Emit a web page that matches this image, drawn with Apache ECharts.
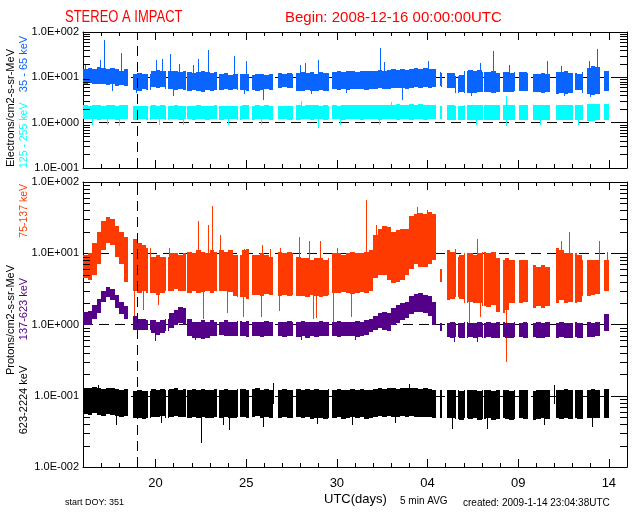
<!DOCTYPE html>
<html><head><meta charset="utf-8">
<script src="https://cdn.jsdelivr.net/npm/echarts@6/dist/echarts.min.js"></script>
<style>html,body{margin:0;padding:0;background:#fff}#c{width:640px;height:512px}</style>
</head><body><div id="c"></div>
<script>
// ---------- data (days since 2008-12-16 00:00 UTC) ----------
const spanDays = 30;
const binDays = 0.25;               // each hi/lo value covers a quarter day
const tickDays = [4, 9, 14, 19, 24, 29];
const tickLabels = ['20', '25', '30', '04', '09', '14'];
const eventDay = 3;
// data gaps [start, end] in days
const gaps = [[2.50,2.74],[3.57,3.71],[4.58,4.68],[5.66,5.74],[7.37,7.48],[8.56,8.66],[9.16,9.31],[10.50,10.73],[11.56,11.75],[13.57,13.71],[19.47,19.67],[19.80,20.07],[20.58,20.69],[21.06,21.19],[22.08,22.13],[23.00,23.14],[23.83,24.06],[24.55,24.80],[25.76,26.10],[27.00,27.12],[27.56,27.78],[28.52,28.73],[29.03,30.00]];

// Electrons 35-65 keV
const e35Hi = [15,16,15,17,16,15,16,15,14,15, 14, 12,12.5,12,12, 14,14.5,14,13.5, 13.5,14,13,13.5, 13,12.5,13,14,13,12.5,13, 12,12.5,11.5,12,12, 12,12,11.5,12,11.8,11.5,12, 12,12.5,12,12.3,12, 12.5,13,12.5,13,12,13,12.5,12.5, 13,13.5,13,13.5,14,13,13.5,14,13.5,14,14.5,14,14.5,15,14.5,15,14.5, 15.5,16,15,16,15.5,15,13,12.5, 12.5,12.5,10.5,11,14,14.5,14,14.5, 13,13,13.5,12.5,13,13,12.5,13, 13,13,12.5,12,12,12.5,12,12, 13,13,13.5,12.5,12.5,12,13,16, 18,17,15,14,13, null,null,null];
const e35Lo = [7,7.5,7,7.2,7,6.8,7,6.5,6.8,6.5, 6.5, 5.2,5,5.5,5.2, 6,5.8,6,5.5, 5.5,5.2,5.5,5.3, 5,5.2,5,4.8,5.2,5,5.3, 5.3,5.5,5.2,5.5,5.2, 5.2,5,5.3,5,5.2,5.4,5.2, 5.8,5.8,6,5.7,5.8, 5,5,5.2,4.9,5,5.3,5,5.1, 5.5,5.3,5.5,5.2,5.5,5.4,5.6,5.3,5.5,5.6,5.8,5.5,5.6,5.8,5.7,5.8,5.6, 5.8,6,5.8,6,5.8,6,6.5,6, 5.8,5.8,4.6,4.8,4.5,4.6,4.5,4.7, 4.7,4.8,4.6,4.8,4.7,4.8,4.7,4.9, 5,5,5,4.7,4.8,4.6,4.8,4.7, 4.3,4.4,4.3,4.5,5.2,5.2,4.5,4.2, 4,4.2,4.5,5,5, null,null,null];
const e35Spikes = [[0.1,19],[0.94,24],[1.16,67],[2.1,34],[4.0,24],[4.35,25],[4.8,33],[5.3,20],[6.05,19],[6.35,25],[6.9,40],[8.33,30],[9.0,23],[11.97,19],[12.25,21],[12.96,24],[16.38,44],[16.6,22],[19.03,23],[21.9,21],[22.6,38],[23.5,19],[25.6,23],[26.37,18],[27.9,23],[28.35,42],[1.6,5.0],[4.95,3.9],[9.93,3.1],[17.6,3.1],[2.9,4.5],[8.9,4.2],[12.6,4.3],[14.5,4.4],[21.4,3.9],[26.5,3.8],[27.95,3.6]];

// Electrons 125-255 keV
const e125Hi = [2.4,2.35,2.45,2.4,2.35,2.4,2.45,2.35,2.4,2.4, 2.3, 2.3,2.35,2.3,2.3, 2.4,2.35,2.4,2.35, 2.35,2.4,2.3,2.35, 2.35,2.3,2.4,2.35,2.3,2.35,2.4, 2.35,2.3,2.35,2.3,2.35, 2.4,2.45,2.35,2.4,2.35,2.4,2.35, 2.3,2.35,2.3,2.3,2.35, 2.4,2.35,2.4,2.45,2.4,2.35,2.4,2.35, 2.4,2.35,2.4,2.45,2.4,2.45,2.5,2.4,2.45,2.5,2.45,2.5,2.45,2.5,2.55,2.5,2.5, 2.55,2.5,2.55,2.5,2.5,2.45,2.3,2.3, 2.4,2.4,2.3,2.35,2.5,2.45,2.5,2.45, 2.5,2.45,2.5,2.45,2.5,2.45,2.5,2.45, 2.45,2.5,2.45,2.4,2.45,2.5,2.4,2.4, 2.5,2.45,2.5,2.45,2.5,2.4,2.5,2.6, 2.6,2.55,2.6,2.6,2.5, null,null,null];
const e125Lo = [1.2,1.18,1.2,1.15,1.2,1.18,1.2,1.15,1.2,1.18, 1.2, 1.15,1.18,1.2,1.15, 1.2,1.18,1.2,1.15, 1.18,1.2,1.15,1.2, 1.18,1.15,1.2,1.18,1.15,1.2,1.18, 1.15,1.2,1.18,1.2,1.15, 1.18,1.2,1.15,1.18,1.2,1.18,1.15, 1.2,1.18,1.2,1.15,1.2, 1.15,1.2,1.18,1.15,1.2,1.18,1.15,1.2, 1.18,1.2,1.15,1.18,1.2,1.18,1.15,1.2,1.18,1.2,1.15,1.18,1.2,1.18,1.15,1.2,1.18, 1.15,1.18,1.2,1.15,1.18,1.2,1.2,1.2, 1.15,1.15,1.15,1.12,1.12,1.15,1.12,1.15, 1.12,1.15,1.12,1.15,1.12,1.15,1.12,1.15, 1.15,1.12,1.15,1.12,1.15,1.12,1.15,1.12, 1.12,1.15,1.12,1.15,1.12,1.15,1.12,1.1, 1.1,1.12,1.15,1.12,1.15, null,null,null];
const e125Spikes = [[0.5,0.88],[1.3,0.9],[2.0,0.86],[4.2,0.9],[5.5,0.87],[8.0,0.88],[9.8,0.9],[12.95,0.76],[14.2,0.87],[16.3,0.9],[21.7,0.89],[23.3,3.9],[23.35,0.85],[25.2,0.88],[27.3,0.9],[12.0,3.0],[17.0,2.9]];

// Protons 75-137 keV
const p75Hi = [9.5,10,14,20,28,32,30,24,20,17, 16, 16,14,13,12, 9,9.5,9,9, 10,10,9.5,10, 10.5,10,11,10.5,10,11,10.5, 11,10.5,11,9.5,9.5, 11,11.5,9.5,9.5,10,9.5,9, 10,10.5,10,10.5,10, 9,8.5,8.5,8,8.5,8.5,8,8.5, 10,10,9.5,10,10.5,10,10,10.5,11,18,22,24,23,20,21,22,22, 33,36,37,35,38,36,6,6, 11,10.5,9,9.5,10,10,9.5,10, 10.5,10,10.5,8.5,8,8.5,8,8, 8,8,8,6.8,6.5,6.8,6.5,6.5, 12,11,10,10,10,9.5,8,8, 8,8,8.5,8,8, null,null,null];
const p75Lo = [4.5,4.2,5,7,11,14,13,9,7,4, 3.5, 3,2.8,3,2.8, 2.8,2.6,2.8,3, 3,3.2,3,3, 2.8,3,2.8,2.9,3,2.8,3, 3,3,2.9,2.5,2.4, 2.4,2.3,2.6,2.6,2.5,2.7,2.6, 2.5,2.5,2.6,2.5,2.6, 2.5,2.5,2.4,2.6,2.5,2.4,2.5,2.6, 2.8,2.8,2.9,2.8,2.7,2.8,2.9,2.8,3,4.5,5,5,4.2,3.8,4,4.2,5, 6,7,6.5,6.4,7,8,4,4, 2.2,2.3,2.4,2.3,2,2.1,2,2, 1.8,1.75,1.9,1.5,1.45,1.6,2,2, 2,2.1,2.1,1.7,1.8,1.7,1.8,1.8, 2,2.2,2,2.1,2,2.1,2.5,2.5, 2.6,2.7,2.7,3,3, null,null,null];
const p75Spikes = [[2.81,1.1],[2.8,16],[4.14,1.9],[4.74,12],[6.34,28.5],[7.1,46],[6.9,25],[6.6,1.2],[7.55,18],[7.94,1.45],[8.88,11.5],[8.85,1.27],[9.87,13],[9.82,1.27],[10.3,11.5],[10.87,12],[10.8,1.55],[11.9,17],[12.47,15],[13.07,15],[12.7,1.2],[12.85,1.25],[13.79,1.1],[14.78,1.27],[15.6,56],[14.0,12],[16.16,25],[20.5,11.5],[21.73,16],[21.3,1.05],[21.9,1.27],[23.3,0.3],[26.37,15],[26.8,20],[28.46,15],[28.9,10.5],[18.4,44],[18.97,40],[3.3,1.6]];

// Protons 137-623 keV
const p137Hi = [1.5,1.55,1.9,2.3,3.0,3.4,3.2,2.6,2.1,1.8, 1.5, 1.3,1.2,1.2,1.15, 1.15,1.1,1.15,1.2, 1.45,1.6,1.75,1.7, 1.2,1.1,1.1,1.15,1.1,1.15,1.1, 1.1,1.15,1.1,1.1,1.12, 1.1,1.12,1.1,1.08,1.1,1.12,1.1, 1.1,1.08,1.1,1.12,1.1, 1.1,1.12,1.1,1.08,1.1,1.12,1.1,1.1, 1.1,1.12,1.1,1.08,1.1,1.12,1.1,1.15,1.2,1.3,1.45,1.5,1.45,1.7,1.9,2.0,2.1, 2.5,2.7,2.8,2.6,2.5,2.1,1.05,1.05, 1.05,1.08,1.05,1.05,1.08,1.05,1.05,1.08, 1.06,1.08,1.05,1.07,1.08,1.05,1.06,1.08, 1.05,1.08,1.06,1.05,1.08,1.05,1.07,1.08, 1.06,1.08,1.05,1.05,1.08,1.06,1.05,1.08, 1.05,1.1,1.12,1.4,1.7, null,null,null];
const p137Lo = [1.0,1.0,1.2,1.45,2.1,2.4,2.2,1.7,1.4,1.2, 1.0, 0.85,0.85,0.83,0.85, 0.75,0.72,0.75,0.8, 0.9,1.0,1.05,1.0, 0.7,0.65,0.65,0.62,0.65,0.68,0.7, 0.72,0.7,0.7,0.68,0.7, 0.68,0.66,0.68,0.7,0.66,0.68,0.7, 0.68,0.7,0.66,0.68,0.7, 0.66,0.68,0.65,0.68,0.66,0.68,0.7,0.68, 0.68,0.66,0.68,0.7,0.68,0.66,0.68,0.72,0.78,0.85,0.9,0.85,0.8,1.0,1.05,1.15,1.25, 1.4,1.5,1.5,1.45,1.3,1.0,0.8,0.8, 0.66,0.65,0.67,0.64,0.65,0.66,0.64,0.66, 0.65,0.66,0.64,0.65,0.67,0.65,0.64,0.66, 0.66,0.64,0.65,0.66,0.64,0.65,0.66,0.65, 0.65,0.66,0.64,0.65,0.66,0.64,0.65,0.66, 0.66,0.7,0.72,0.8,0.9, null,null,null];
const p137Spikes = [[3.97,0.58],[6.2,0.6],[20.45,0.57],[21.73,0.57],[12.0,0.6],[15.0,0.6]];

// Protons 623-2224 keV
const p623Hi = [0.13,0.128,0.132,0.13,0.126,0.13,0.128,0.125,0.122,0.125, 0.12, 0.118,0.12,0.115,0.118, 0.125,0.122,0.125,0.12, 0.125,0.128,0.122,0.125, 0.122,0.125,0.12,0.125,0.122,0.12,0.125, 0.122,0.125,0.12,0.122,0.125, 0.125,0.122,0.125,0.128,0.122,0.125,0.12, 0.125,0.122,0.125,0.12,0.122, 0.125,0.122,0.125,0.12,0.125,0.122,0.12,0.125, 0.122,0.125,0.12,0.122,0.125,0.122,0.125,0.12,0.122,0.125,0.128,0.125,0.13,0.128,0.125,0.13,0.128, 0.13,0.128,0.125,0.128,0.125,0.122,0.12,0.12, 0.12,0.122,0.12,0.118,0.122,0.12,0.122,0.118, 0.12,0.122,0.118,0.12,0.122,0.12,0.118,0.12, 0.122,0.12,0.12,0.118,0.12,0.122,0.12,0.12, 0.122,0.12,0.125,0.12,0.122,0.12,0.12,0.122, 0.125,0.122,0.12,0.125,0.128, null,null,null];
const p623Lo = [0.056,0.054,0.057,0.054,0.052,0.056,0.054,0.052,0.051,0.052, 0.05, 0.048,0.049,0.047,0.049, 0.051,0.05,0.052,0.049, 0.051,0.052,0.05,0.051, 0.049,0.051,0.048,0.05,0.049,0.048,0.05, 0.049,0.051,0.048,0.049,0.05, 0.05,0.049,0.051,0.052,0.049,0.05,0.048, 0.05,0.049,0.051,0.048,0.049, 0.05,0.048,0.05,0.047,0.049,0.048,0.047,0.049, 0.048,0.05,0.047,0.049,0.05,0.048,0.05,0.047,0.049,0.05,0.052,0.05,0.052,0.051,0.05,0.052,0.051, 0.052,0.051,0.05,0.051,0.05,0.049,0.048,0.048, 0.048,0.049,0.047,0.046,0.048,0.047,0.048,0.046, 0.047,0.048,0.046,0.047,0.048,0.047,0.046,0.047, 0.048,0.047,0.047,0.046,0.047,0.048,0.047,0.047, 0.048,0.047,0.049,0.047,0.048,0.047,0.047,0.048, 0.049,0.048,0.047,0.049,0.051, null,null,null];
const p623Spikes = [[1.8,0.039],[6.5,0.022],[8.05,0.033],[7.7,0.039],[9.93,0.037],[12.9,0.04],[14.84,0.039],[20.35,0.034],[22.28,0.034],[25.4,0.039],[28.07,0.037],[4.3,0.042],[17.2,0.042],[10.48,0.15],[0.8,0.14],[18.0,0.145],[26.0,0.14]];

// ---------- rendering ----------
const FONT = '"Liberation Sans", Arial, sans-serif';
const C_BLUE = '#0a64ff', C_CYAN = '#00ffff', C_ORANGE = '#ff3a00', C_PURPLE = '#550088', C_BLACK = '#000000';

function cutGaps(s, e) {
  let pieces = [[s, e]];
  for (const [g0, g1] of gaps) {
    const next = [];
    for (const [a, b] of pieces) {
      if (g1 <= a || g0 >= b) { next.push([a, b]); continue; }
      if (g0 > a) next.push([a, g0]);
      if (g1 < b) next.push([g1, b]);
    }
    pieces = next;
  }
  return pieces;
}
function bandData(hi, lo) {
  const out = [];
  hi.forEach((h, i) => { if (h != null && lo[i] != null) out.push([i * binDays, (i + 1) * binDays, lo[i], h]); });
  return out;
}
function bandSeries(hi, lo, color, xi, yi) {
  return {
    type: 'custom', xAxisIndex: xi, yAxisIndex: yi, silent: true, z: 3,
    data: bandData(hi, lo), encode: { x: [0, 1], y: [2, 3] },
    renderItem: (params, api) => {
      const s = api.value(0), e = api.value(1), l = api.value(2), h = api.value(3);
      const children = [];
      for (const [a, b] of cutGaps(s, e)) {
        const p1 = api.coord([a, h]), p2 = api.coord([b, l]);
        const x0 = Math.round(p1[0]), x1 = Math.round(p2[0]);
        if (x1 <= x0) continue;
        const y0 = Math.round(p1[1]), y1 = Math.round(p2[1]);
        children.push({ type: 'rect', shape: { x: x0, y: y0, width: x1 - x0, height: Math.max(1, y1 - y0) }, style: { fill: color } });
      }
      return { type: 'group', children };
    }
  };
}
function spikeSeries(spikes, hi, lo, color, xi, yi) {
  const data = spikes.map(([d, v]) => {
    const i = Math.min(hi.length - 1, Math.floor(d / binDays));
    const base = (hi[i] != null) ? Math.sqrt(hi[i] * lo[i]) : v;
    return [d, v, base];
  });
  return {
    type: 'custom', xAxisIndex: xi, yAxisIndex: yi, silent: true, z: 3,
    data, encode: { x: 0, y: [1, 2] },
    renderItem: (params, api) => {
      const p = api.coord([api.value(0), api.value(1)]);
      const b = api.coord([api.value(0), api.value(2)]);
      const y0 = Math.round(Math.min(p[1], b[1])), y1 = Math.round(Math.max(p[1], b[1]));
      return { type: 'rect', shape: { x: Math.round(p[0]), y: y0, width: 1, height: Math.max(1, y1 - y0) }, style: { fill: color } };
    }
  };
}
// minor log ticks (2..9 of each decade) on both vertical frame sides
function minorTickSeries(lo, hi, xi, yi) {
  const vals = [];
  for (let e = lo; e < hi; e++) for (let m = 2; m <= 9; m++) vals.push([+(m * Math.pow(10, e)).toPrecision(3)]);
  return {
    type: 'custom', xAxisIndex: xi, yAxisIndex: yi, silent: true, z: 6, clip: false,
    data: vals, encode: { y: 0 },
    renderItem: (params, api) => {
      const a = api.coord([0, api.value(0)]), b = api.coord([spanDays, api.value(0)]);
      const y = Math.round(a[1]);
      return { type: 'group', children: [
        { type: 'rect', shape: { x: Math.round(a[0]), y: y, width: 7, height: 1 }, style: { fill: '#000' } },
        { type: 'rect', shape: { x: Math.round(b[0]) - 7, y: y, width: 7, height: 1 }, style: { fill: '#000' } }
      ] };
    }
  };
}
function eventLine(xi, yi) {
  return {
    type: 'line', xAxisIndex: xi, yAxisIndex: yi, data: [], z: 10, silent: true,
    markLine: { silent: true, symbol: ['none', 'none'], label: { show: false }, animation: false,
      lineStyle: { color: '#000', type: [10, 6], width: 1 }, data: [{ xAxis: eventDay }] }
  };
}

const minorDays = [];
for (let d = 1; d < spanDays; d++) if (tickDays.indexOf(d) < 0) minorDays.push(d);
const expLabel = v => { const e = Math.round(Math.log10(v)); return '1.0E' + (e < 0 ? '-' : '+') + String(Math.abs(e)).padStart(3, '0'); };
const axLine = { show: true, onZero: false, lineStyle: { color: '#000', width: 1 } };

function xAxes(grid, withLabels) {
  const base = { gridIndex: grid, type: 'value', min: 0, max: spanDays, splitLine: { show: false } };
  return [
    Object.assign({}, base, { position: 'bottom', axisLine: axLine,
      axisTick: { show: true, inside: true, length: 8, customValues: tickDays, lineStyle: { color: '#000' } },
      axisLabel: withLabels ? { show: true, customValues: tickDays, margin: 10, color: '#000', fontSize: 13, fontFamily: FONT,
        formatter: v => tickLabels[tickDays.indexOf(Math.round(v))] } : { show: false } }),
    Object.assign({}, base, { position: 'top', axisLine: axLine,
      axisTick: { show: true, inside: true, length: 8, customValues: tickDays, lineStyle: { color: '#000' } }, axisLabel: { show: false } }),
    Object.assign({}, base, { position: 'bottom', axisLine: { show: false },
      axisTick: { show: true, inside: true, length: 4, customValues: minorDays, lineStyle: { color: '#000' } }, axisLabel: { show: false } }),
    Object.assign({}, base, { position: 'top', axisLine: { show: false },
      axisTick: { show: true, inside: true, length: 4, customValues: minorDays, lineStyle: { color: '#000' } }, axisLabel: { show: false } })
  ];
}
function yAxes(grid, lo, hi) {
  const base = { gridIndex: grid, type: 'log', logBase: 10, min: Math.pow(10, lo), max: Math.pow(10, hi) };
  return [
    Object.assign({}, base, { position: 'left', axisLine: axLine,
      axisTick: { show: true, inside: true, length: 10, lineStyle: { color: '#000' } },
      axisLabel: { show: true, margin: 4, color: '#000', fontSize: 11, fontFamily: FONT, formatter: expLabel },
      splitLine: { show: true, lineStyle: { color: '#000', type: [10, 6], width: 1 } } }),
    Object.assign({}, base, { position: 'right', axisLine: axLine,
      axisTick: { show: true, inside: true, length: 10, lineStyle: { color: '#000' } }, axisLabel: { show: false }, splitLine: { show: false } })
  ];
}

function txt(x, y, text, size, color, align, vAlign, rot, sy) {
  return { type: 'text', x, y, rotation: rot || 0, scaleY: sy || 1, silent: true, z: 20,
    style: { text, fill: color, font: size + 'px ' + FONT, align: align || 'left', verticalAlign: vAlign || 'middle' } };
}

const chart = echarts.init(document.getElementById('c'), null, { renderer: 'canvas' });
const R = Math.PI / 2;
chart.setOption({
  animation: false,
  backgroundColor: '#fff',
  grid: [
    { left: 83, top: 32, width: 544, height: 136 },
    { left: 83, top: 182, width: 544, height: 285 }
  ],
  xAxis: [].concat(xAxes(0, false), xAxes(1, true)),
  yAxis: [].concat(yAxes(0, -1, 2), yAxes(1, -2, 2)),
  series: [
    minorTickSeries(-1, 2, 0, 0),
    bandSeries(e35Hi, e35Lo, C_BLUE, 0, 0),
    spikeSeries(e35Spikes, e35Hi, e35Lo, C_BLUE, 0, 0),
    bandSeries(e125Hi, e125Lo, C_CYAN, 0, 0),
    spikeSeries(e125Spikes, e125Hi, e125Lo, C_CYAN, 0, 0),
    eventLine(0, 0),
    minorTickSeries(-2, 2, 4, 2),
    bandSeries(p75Hi, p75Lo, C_ORANGE, 4, 2),
    spikeSeries(p75Spikes, p75Hi, p75Lo, C_ORANGE, 4, 2),
    bandSeries(p137Hi, p137Lo, C_PURPLE, 4, 2),
    spikeSeries(p137Spikes, p137Hi, p137Lo, C_PURPLE, 4, 2),
    bandSeries(p623Hi, p623Lo, C_BLACK, 4, 2),
    spikeSeries(p623Spikes, p623Hi, p623Lo, C_BLACK, 4, 2),
    eventLine(4, 2)
  ],
  graphic: [
    txt(65, 18, 'STEREO A IMPACT', 13, '#ff0000', 'left', 'middle', 0, 1.2),
    txt(285, 18, 'Begin: 2008-12-16 00:00:00UTC', 15, '#ff0000'),
    txt(11, 108, 'Electrons/cm2-s-sr-MeV', 11, '#000', 'center', 'middle', R),
    txt(24, 168, '125 - 255 keV', 10.5, C_CYAN, 'left', 'middle', R),
    txt(24, 64, '35 - 65 keV', 11, C_BLUE, 'center', 'middle', R),
    txt(11, 320, 'Protons/cm2-s-sr-MeV', 11, '#000', 'center', 'middle', R),
    txt(24, 184, '75-137 keV', 10.5, C_ORANGE, 'right', 'middle', R),
    txt(24, 309, '137-623 keV', 11, C_PURPLE, 'center', 'middle', R),
    txt(24, 400, '623-2224 keV', 11, '#000', 'center', 'middle', R),
    txt(65, 503, 'start DOY: 351', 9, '#000'),
    txt(324, 499, 'UTC(days)', 13, '#000'),
    txt(400, 501, '5 min AVG', 10, '#000'),
    txt(463, 503, 'created: 2009-1-14 23:04:38UTC', 10, '#000')
  ]
});
</script></body></html>
